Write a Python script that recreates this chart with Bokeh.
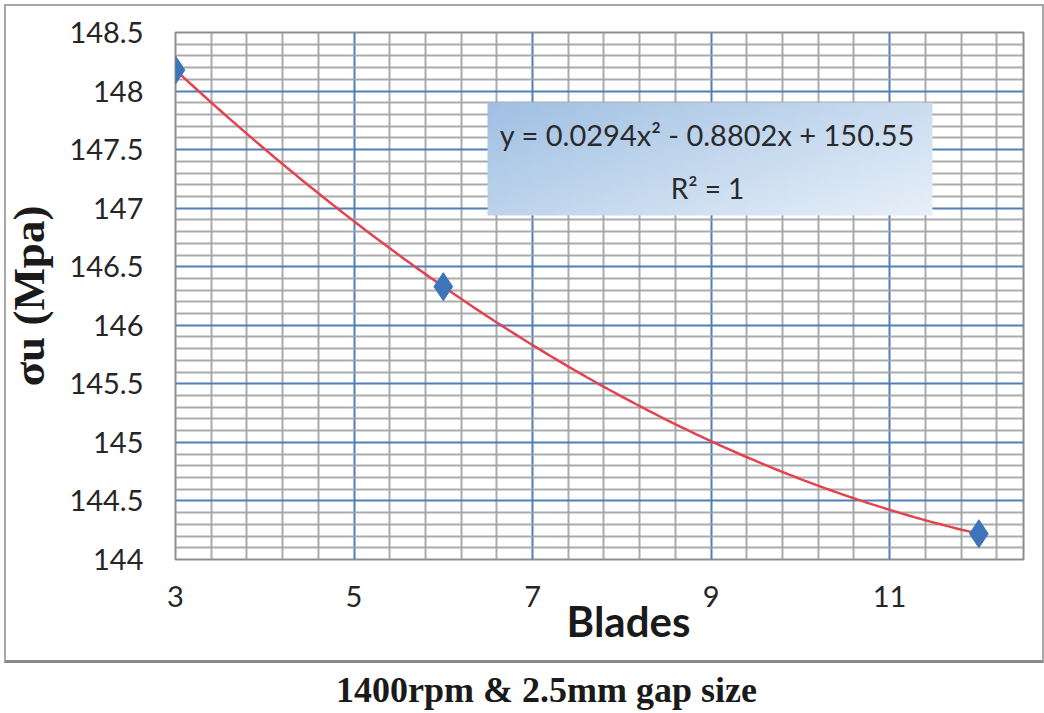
import numpy as np
from bokeh.plotting import figure
from bokeh.models import (FixedTicker, Label, Range1d, LinearAxis, InlineStyleSheet)
from bokeh.embed import file_html
from bokeh.resources import INLINE

# ---- data ----
blades = [3, 6, 12]
stress = [148.18, 146.33, 144.22]
x_ticks = [3, 5, 7, 9, 11]
y_ticks = [144, 144.5, 145, 145.5, 146, 146.5, 147, 147.5, 148, 148.5]
y_tick_labels = ["144", "144.5", "145", "145.5", "146", "146.5", "147", "147.5", "148", "148.5"]
equation_text = "y = 0.0294x\u00b2 - 0.8802x + 150.55"
r2_text = "R\u00b2 = 1"
x_label = "Blades"
y_label = "\u03c3u (Mpa)"
caption = "1400rpm & 2.5mm gap size"

# ---- layout ----
W, H = 1044, 713
FL, FR, FT, FB = 175, 1023, 32, 559
X0, X1 = 3, 12.5
Y0, Y1 = 144, 148.5


def px2x(px):
    return round(X0 + (px - FL) * (X1 - X0) / (FR - FL), 4)


def py2y(py):
    return Y1 - (py - FT) * (Y1 - Y0) / (FB - FT)


p = figure(width=W, height=H, output_backend="svg", toolbar_location=None,
           x_range=Range1d(X0, X1), y_range=Range1d(Y0, Y1),
           min_border_left=FL, min_border_right=W - FR,
           min_border_top=FT, min_border_bottom=H - FB)
p.background_fill_color = "white"
p.border_fill_color = "white"
p.outline_line_color = "#8e8e8e"
p.outline_line_width = 2

# chart-area border (CSS overlay, does not affect layout)
p.stylesheets = [InlineStyleSheet(css="""
:host { position: relative; }
:host::after { content: ""; position: absolute; left: 4px; top: 4px;
  width: 1036px; height: 654px; border: 2px solid #a8a8a8;
  border-bottom: 3px solid #8a8a8a; pointer-events: none; }
""")]

# grids
x_minor = [round(v, 2) for v in np.arange(X0, X1 + 1e-9, 0.4) if round(v, 2) not in x_ticks]
y_minor = [round(v, 2) for v in np.arange(Y0, Y1 + 1e-9, 0.1) if round(v, 2) not in y_ticks]
p.xgrid.ticker = FixedTicker(ticks=x_ticks, minor_ticks=x_minor)
p.ygrid.ticker = FixedTicker(ticks=y_ticks, minor_ticks=y_minor)
for g in (p.xgrid, p.ygrid):
    g.grid_line_color = "#4f7fb4"
    g.grid_line_width = 2
    g.grid_line_alpha = 1.0
    g.minor_grid_line_color = "#a2a2a2"
    g.minor_grid_line_width = 2
    g.minor_grid_line_alpha = 0.9

# axes
p.xaxis.ticker = FixedTicker(ticks=x_ticks)
p.yaxis.ticker = FixedTicker(ticks=y_ticks)
p.yaxis.major_label_overrides = {t: l for t, l in zip(y_ticks, y_tick_labels)}
for ax in (p.xaxis, p.yaxis):
    ax.axis_line_color = None
    ax.major_tick_line_color = None
    ax.minor_tick_line_color = None
    ax.major_label_text_font = "Lato"
    ax.major_label_text_font_size = "29px"
    ax.major_label_text_color = "#262626"
p.xaxis.major_label_standoff = 20
p.yaxis.major_label_standoff = 26

p.yaxis.axis_label = y_label
p.yaxis.axis_label_text_font = "Liberation Serif"
p.yaxis.axis_label_text_font_style = "bold"
p.yaxis.axis_label_text_font_size = "45px"
p.yaxis.axis_label_text_color = "#1a1a1a"
p.yaxis.axis_label_standoff = 12


def text_axis(pos_px, text, font, size, standoff):
    pos = px2x(pos_px)
    ax = LinearAxis(ticker=FixedTicker(ticks=[pos]), major_label_overrides={pos: text})
    ax.axis_line_color = None
    ax.major_tick_line_color = None
    ax.minor_tick_line_color = None
    ax.major_label_text_font = font
    ax.major_label_text_font_style = "bold"
    ax.major_label_text_font_size = size
    ax.major_label_text_color = "#1a1a1a"
    ax.major_label_standoff = standoff
    return ax


p.add_layout(text_axis(628, x_label, "Lato", "42px", -20), "below")
p.add_layout(text_axis(546, caption, "Liberation Serif", "36px", 15), "below")

# trendline (2nd order polynomial fitted to the data)
coef = np.polyfit(blades, stress, 2)
xf = np.linspace(min(blades), max(blades), 200)
p.line(xf, np.polyval(coef, xf), line_color="#e2434f", line_width=2.5)

# markers
p.scatter(blades, stress, marker="diamond", size=28, fill_color="#3d74ba",
          line_color="#3d74ba")

# equation box with gradient
bx0, bx1, by0, by1 = px2x(487), px2x(932), py2y(215), py2y(102)
nx, ny = 120, 30
img = np.empty((ny, nx), dtype=np.uint32)
view = img.view(dtype=np.uint8).reshape((ny, nx, 4))
c_dark = np.array([160, 192, 227])
c_light = np.array([232, 240, 249])
for j in range(ny):
    for i in range(nx):
        t = 0.6 * (i / (nx - 1)) + 0.4 * (1 - j / (ny - 1))
        c = c_dark + (c_light - c_dark) * t
        view[j, i, 0:3] = c.astype(np.uint8)
        view[j, i, 3] = 255
p.image_rgba(image=[img], x=bx0, y=by0, dw=bx1 - bx0, dh=by1 - by0)

p.add_layout(Label(x=px2x(707), y=py2y(134), text=equation_text,
                   text_font="Lato", text_font_size="29px", text_color="#2a2a2a",
                   text_align="center", text_baseline="alphabetic"))
p.add_layout(Label(x=px2x(707), y=py2y(187), text=r2_text,
                   text_font="Lato", text_font_size="28px", text_color="#2a2a2a",
                   text_align="center", text_baseline="alphabetic"))

open("out.html", "w").write(file_html(p, INLINE))
